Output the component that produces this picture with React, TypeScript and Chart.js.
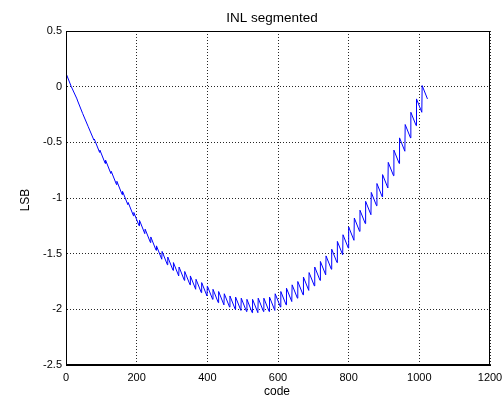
import React, { useEffect, useRef } from "react";
import { Chart, registerables } from "chart.js";

Chart.register(...registerables);

// INL value at the first code of each 16-code segment (codes 0, 16, ..., 1008)
const segmentStartInl: number[] = [
  0.12, 0.0, -0.12, -0.24, -0.36, -0.47, -0.57, -0.66, -0.76, -0.85,
  -0.94, -1.04, -1.13, -1.2, -1.28, -1.35, -1.43, -1.48, -1.53, -1.58,
  -1.62, -1.66, -1.7, -1.73, -1.76, -1.79, -1.82, -1.84, -1.86, -1.88,
  -1.89, -1.9, -1.91, -1.91, -1.9, -1.9, -1.89, -1.86, -1.84, -1.81,
  -1.78, -1.75, -1.71, -1.67, -1.62, -1.57, -1.52, -1.46, -1.39, -1.33,
  -1.26, -1.18, -1.11, -1.03, -0.95, -0.87, -0.79, -0.68, -0.57, -0.46,
  -0.34, -0.23, -0.11, 0.01,
];

// INL value at the last code of each segment (codes 15, 31, ..., 1023)
const segmentEndInl: number[] = [
  0.0, -0.11, -0.24, -0.36, -0.48, -0.59, -0.69, -0.78, -0.88, -0.97,
  -1.06, -1.16, -1.25, -1.32, -1.4, -1.47, -1.55, -1.6, -1.65, -1.7,
  -1.74, -1.78, -1.82, -1.85, -1.88, -1.91, -1.94, -1.96, -1.98, -2.0,
  -2.01, -2.02, -2.03, -2.03, -2.02, -2.02, -2.01, -1.98, -1.96, -1.93,
  -1.9, -1.87, -1.83, -1.79, -1.74, -1.69, -1.64, -1.58, -1.51, -1.45,
  -1.38, -1.3, -1.23, -1.15, -1.07, -0.99, -0.91, -0.8, -0.69, -0.58,
  -0.46, -0.35, -0.23, -0.11,
];

const SEGMENT_SIZE = 16;
const xTicks: number[] = [0, 200, 400, 600, 800, 1000, 1200];
const yTicks: number[] = [-2.5, -2, -1.5, -1, -0.5, 0, 0.5];

const titleText = "INL segmented";
const xLabel = "code";
const yLabel = "LSB";

export default function App() {
  const canvasRef = useRef<HTMLCanvasElement | null>(null);

  useEffect(() => {
    const canvas = canvasRef.current;
    if (!canvas) return;

    const points: { x: number; y: number }[] = [];
    segmentStartInl.forEach((v, i) => {
      points.push({ x: i * SEGMENT_SIZE, y: v });
      points.push({ x: i * SEGMENT_SIZE + SEGMENT_SIZE - 1, y: segmentEndInl[i] });
    });

    const textPlugin = {
      id: "matlabText",
      afterDraw(chart: any) {
        const { ctx, chartArea } = chart;
        ctx.save();
        // frame
        ctx.strokeStyle = "#000";
        ctx.lineWidth = 1;
        ctx.setLineDash([]);
        ctx.strokeRect(
          Math.round(chartArea.left) + 0.5,
          Math.round(chartArea.top) + 0.5,
          Math.round(chartArea.right - chartArea.left) - 1,
          Math.round(chartArea.bottom - chartArea.top) - 1
        );
        ctx.fillStyle = "#000";
        ctx.textAlign = "center";
        ctx.textBaseline = "middle";
        ctx.font = "13.5px 'Liberation Sans', Arial, sans-serif";
        ctx.fillText(titleText, 272, 18);
        ctx.font = "12px 'Liberation Sans', Arial, sans-serif";
        ctx.fillText(xLabel, 277, 392);
        ctx.translate(26, 200);
        ctx.rotate(-Math.PI / 2);
        ctx.fillText(yLabel, 0, 0);
        ctx.restore();
      },
    };

    const tickFont = { family: "'Liberation Sans', Arial, sans-serif", size: 11 };

    const chart = new Chart(canvas, {
      type: "line",
      data: {
        datasets: [
          {
            data: points,
            borderColor: "#0000ff",
            borderWidth: 1,
            pointRadius: 0,
            tension: 0,
            fill: false,
          },
        ],
      },
      options: {
        responsive: false,
        animation: false,
        devicePixelRatio: 1,
        layout: { padding: { top: 31, right: 12, left: 0, bottom: 0 } },
        plugins: {
          legend: { display: false },
          title: { display: false },
          tooltip: { enabled: false },
        },
        scales: {
          x: {
            type: "linear",
            min: 0,
            max: 1200,
            afterBuildTicks: (scale: any) => {
              scale.ticks = xTicks.map((v) => ({ value: v }));
            },
            afterFit: (scale: any) => {
              scale.height = 36;
              scale.paddingLeft = 0;
              scale.paddingRight = 0;
            },
            grid: {
              color: "rgba(0,0,0,0.85)",
              lineWidth: 1,
              drawTicks: false,
            },
            border: { display: true, color: "#000", dash: [1, 2] },
            ticks: {
              color: "#000",
              font: tickFont,
              padding: 6,
              maxRotation: 0,
              autoSkip: false,
              callback: (v: any) => String(v),
            },
          },
          y: {
            type: "linear",
            min: -2.5,
            max: 0.5,
            afterBuildTicks: (scale: any) => {
              scale.ticks = yTicks.map((v) => ({ value: v }));
            },
            afterFit: (scale: any) => {
              scale.width = 66;
              scale.paddingTop = 0;
              scale.paddingBottom = 0;
            },
            grid: {
              color: "rgba(0,0,0,0.85)",
              lineWidth: 1,
              drawTicks: false,
            },
            border: { display: true, color: "#000", dash: [1, 2] },
            ticks: {
              color: "#000",
              font: tickFont,
              padding: 4,
              autoSkip: false,
              callback: (v: any) => String(v),
            },
          },
        },
      },
      plugins: [textPlugin],
    });

    return () => chart.destroy();
  }, []);

  return (
    <div style={{ position: "fixed", left: 0, top: 0, width: 502, height: 401, background: "#fff" }}>
      <canvas ref={canvasRef} width={502} height={401} style={{ width: 502, height: 401, display: "block" }} />
    </div>
  );
}
